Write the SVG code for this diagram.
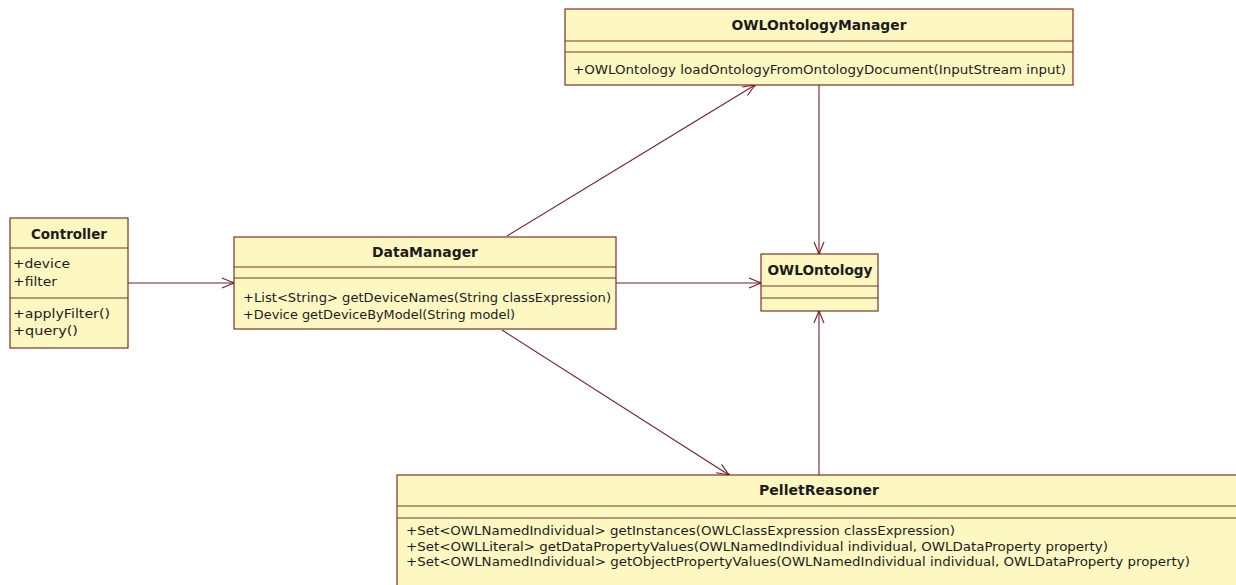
<svg xmlns="http://www.w3.org/2000/svg" width="1236" height="585" viewBox="0 0 1236 585">
  <style>
    .box { fill: #fdf8c2; stroke: #7a3524; stroke-width: 1.2; }
    .sep { stroke: #7a3524; stroke-width: 1.2; }
    .title { font-family: "DejaVu Sans", Verdana, sans-serif; font-weight: bold; font-size: 14px; fill: #1c1c1c; text-anchor: middle; }
    .member { font-family: "DejaVu Sans", Verdana, sans-serif; font-size: 13px; fill: #1c1c1c; }
    .tight { font-size: 12px; }
    .link { stroke: #7a1c22; stroke-width: 1.1; fill: none; marker-end: url(#open); }
  </style>
  <defs>
    <marker id="open" viewBox="-13 -7 15 14" refX="0" refY="0" markerWidth="15" markerHeight="14" markerUnits="userSpaceOnUse" orient="auto">
      <path d="M-12,-5 L0,0 L-12,5" fill="none" stroke="#7a1c22" stroke-width="1.1"/>
      <circle cx="-0.5" cy="0" r="1.4" fill="#7a1c22"/>
    </marker>
  </defs>
  <rect width="1236" height="585" fill="#ffffff"/>

  <!-- associations -->
  <g id="connectors">
    <line class="link" x1="128" y1="283" x2="234" y2="283"/>
    <line class="link" x1="616" y1="283" x2="761" y2="283"/>
    <line class="link" x1="507" y1="236" x2="755" y2="85"/>
    <line class="link" x1="502" y1="330" x2="729" y2="475"/>
    <line class="link" x1="819" y1="85" x2="819" y2="254"/>
    <line class="link" x1="819" y1="475" x2="819" y2="311"/>
  </g>

  <g id="Controller">
    <rect class="box" x="10" y="218" width="118" height="130"/>
    <line class="sep" x1="10" y1="248" x2="128" y2="248"/>
    <line class="sep" x1="10" y1="298" x2="128" y2="298"/>
    <text class="title" x="69" y="239" textLength="76" lengthAdjust="spacingAndGlyphs">Controller</text>
    <text class="member" x="13" y="268" textLength="57" lengthAdjust="spacingAndGlyphs">+device</text>
    <text class="member" x="13" y="286" textLength="44" lengthAdjust="spacingAndGlyphs">+filter</text>
    <text class="member" x="13" y="318" textLength="97" lengthAdjust="spacingAndGlyphs">+applyFilter()</text>
    <text class="member" x="13" y="335" textLength="65" lengthAdjust="spacingAndGlyphs">+query()</text>
  </g>

  <g id="DataManager">
    <rect class="box" x="234" y="237" width="382" height="92"/>
    <line class="sep" x1="234" y1="267" x2="616" y2="267"/>
    <line class="sep" x1="234" y1="278" x2="616" y2="278"/>
    <text class="title" x="425" y="257" textLength="106" lengthAdjust="spacingAndGlyphs">DataManager</text>
    <text class="member" x="243" y="302" textLength="368" lengthAdjust="spacingAndGlyphs">+List&lt;String&gt; getDeviceNames(String classExpression)</text>
    <text class="member" x="243" y="319" textLength="272" lengthAdjust="spacingAndGlyphs">+Device getDeviceByModel(String model)</text>
  </g>

  <g id="OWLOntologyManager">
    <rect class="box" x="565" y="9" width="508" height="76"/>
    <line class="sep" x1="565" y1="41" x2="1073" y2="41"/>
    <line class="sep" x1="565" y1="52" x2="1073" y2="52"/>
    <text class="title" x="819" y="30" textLength="175" lengthAdjust="spacingAndGlyphs">OWLOntologyManager</text>
    <text class="member" x="573" y="74" textLength="493" lengthAdjust="spacingAndGlyphs">+OWLOntology loadOntologyFromOntologyDocument(InputStream input)</text>
  </g>

  <g id="OWLOntology">
    <rect class="box" x="761" y="254" width="117" height="57"/>
    <line class="sep" x1="761" y1="286" x2="878" y2="286"/>
    <line class="sep" x1="761" y1="298" x2="878" y2="298"/>
    <text class="title" x="820" y="275" textLength="105" lengthAdjust="spacingAndGlyphs">OWLOntology</text>
  </g>

  <g id="PelletReasoner">
    <rect class="box" x="397" y="475" width="846" height="130"/>
    <line class="sep" x1="397" y1="506" x2="1243" y2="506"/>
    <line class="sep" x1="397" y1="518" x2="1243" y2="518"/>
    <text class="title" x="819" y="495" textLength="120" lengthAdjust="spacingAndGlyphs">PelletReasoner</text>
    <text class="member tight" x="406" y="535" textLength="549" lengthAdjust="spacingAndGlyphs">+Set&lt;OWLNamedIndividual&gt; getInstances(OWLClassExpression classExpression)</text>
    <text class="member tight" x="406" y="551" textLength="702" lengthAdjust="spacingAndGlyphs">+Set&lt;OWLLiteral&gt; getDataPropertyValues(OWLNamedIndividual individual, OWLDataProperty property)</text>
    <text class="member tight" x="406" y="566" textLength="784" lengthAdjust="spacingAndGlyphs">+Set&lt;OWLNamedIndividual&gt; getObjectPropertyValues(OWLNamedIndividual individual, OWLDataProperty property)</text>
  </g>
</svg>
